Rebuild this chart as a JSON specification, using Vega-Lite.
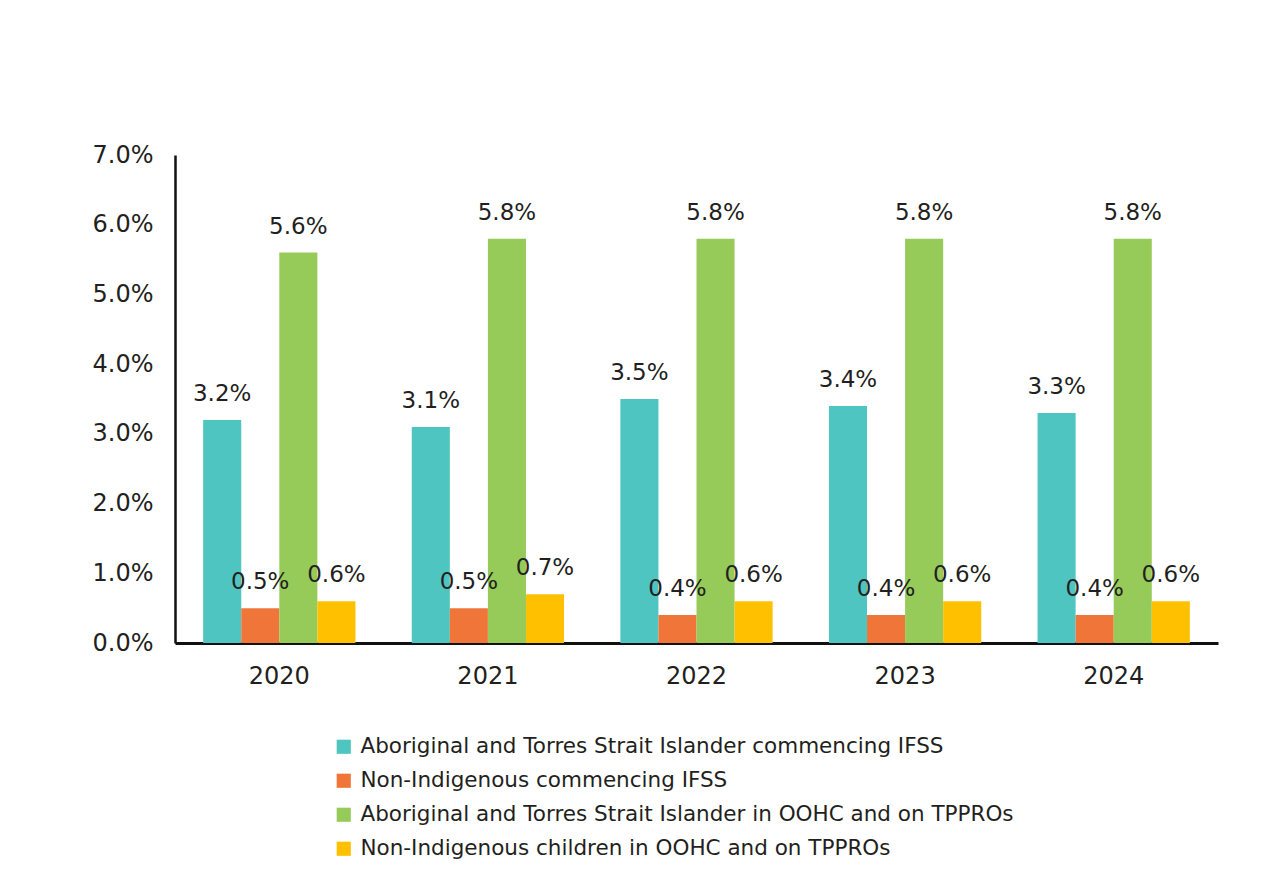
{
  "$schema": "https://vega.github.io/schema/vega-lite/v6.json",
  "width": 1043,
  "height": 488,
  "autosize": {"type": "none"},
  "padding": {"left": 175, "top": 155, "right": 63, "bottom": 247},
  "background": "white",
  "config": {
    "view": {"stroke": null},
    "font": "DejaVu Sans",
    "axis": {"labelFont": "DejaVu Sans", "labelFontWeight": "normal", "labelColor": "#231f20", "labelFontSize": 24}
  },
  "data": {
    "values": [
      {"year": "2020", "series": "Aboriginal and Torres Strait Islander commencing IFSS", "value": 0.032},
      {"year": "2020", "series": "Non-Indigenous commencing IFSS", "value": 0.005},
      {"year": "2020", "series": "Aboriginal and Torres Strait Islander in OOHC and on TPPROs", "value": 0.056},
      {"year": "2020", "series": "Non-Indigenous children in OOHC and on TPPROs", "value": 0.006},
      {"year": "2021", "series": "Aboriginal and Torres Strait Islander commencing IFSS", "value": 0.031},
      {"year": "2021", "series": "Non-Indigenous commencing IFSS", "value": 0.005},
      {"year": "2021", "series": "Aboriginal and Torres Strait Islander in OOHC and on TPPROs", "value": 0.058},
      {"year": "2021", "series": "Non-Indigenous children in OOHC and on TPPROs", "value": 0.007},
      {"year": "2022", "series": "Aboriginal and Torres Strait Islander commencing IFSS", "value": 0.035},
      {"year": "2022", "series": "Non-Indigenous commencing IFSS", "value": 0.004},
      {"year": "2022", "series": "Aboriginal and Torres Strait Islander in OOHC and on TPPROs", "value": 0.058},
      {"year": "2022", "series": "Non-Indigenous children in OOHC and on TPPROs", "value": 0.006},
      {"year": "2023", "series": "Aboriginal and Torres Strait Islander commencing IFSS", "value": 0.034},
      {"year": "2023", "series": "Non-Indigenous commencing IFSS", "value": 0.004},
      {"year": "2023", "series": "Aboriginal and Torres Strait Islander in OOHC and on TPPROs", "value": 0.058},
      {"year": "2023", "series": "Non-Indigenous children in OOHC and on TPPROs", "value": 0.006},
      {"year": "2024", "series": "Aboriginal and Torres Strait Islander commencing IFSS", "value": 0.033},
      {"year": "2024", "series": "Non-Indigenous commencing IFSS", "value": 0.004},
      {"year": "2024", "series": "Aboriginal and Torres Strait Islander in OOHC and on TPPROs", "value": 0.058},
      {"year": "2024", "series": "Non-Indigenous children in OOHC and on TPPROs", "value": 0.006}
    ]
  },
  "encoding": {
    "x": {
      "field": "year", "type": "nominal", "title": null,
      "scale": {"paddingInner": 0.27, "paddingOuter": 0.135},
      "axis": {"labelAngle": 0, "domainColor": "#111111", "domainWidth": 3, "ticks": false, "labelPadding": 21}
    },
    "xOffset": {
      "field": "series", "type": "nominal",
      "sort": ["Aboriginal and Torres Strait Islander commencing IFSS", "Non-Indigenous commencing IFSS", "Aboriginal and Torres Strait Islander in OOHC and on TPPROs", "Non-Indigenous children in OOHC and on TPPROs"],
      "scale": {"paddingInner": 0, "paddingOuter": 0}
    },
    "y": {
      "field": "value", "type": "quantitative", "title": null,
      "scale": {"domain": [0, 0.07], "nice": false},
      "axis": {"format": ".1%", "values": [0, 0.01, 0.02, 0.03, 0.04, 0.05, 0.06, 0.07], "grid": false, "ticks": false, "domainColor": "#111111", "domainWidth": 2.5, "labelPadding": 22}
    }
  },
  "layer": [
    {
      "mark": {"type": "bar"},
      "encoding": {
        "color": {
          "field": "series", "type": "nominal",
          "sort": ["Aboriginal and Torres Strait Islander commencing IFSS", "Non-Indigenous commencing IFSS", "Aboriginal and Torres Strait Islander in OOHC and on TPPROs", "Non-Indigenous children in OOHC and on TPPROs"],
          "scale": {
            "domain": ["Aboriginal and Torres Strait Islander commencing IFSS", "Non-Indigenous commencing IFSS", "Aboriginal and Torres Strait Islander in OOHC and on TPPROs", "Non-Indigenous children in OOHC and on TPPROs"],
            "range": ["#4EC5C1", "#F07538", "#97CB59", "#FFC000"]
          },
          "legend": {
            "title": null, "orient": "none", "legendX": 158, "legendY": 581, "direction": "vertical",
            "symbolType": "square", "symbolSize": 200, "symbolStrokeWidth": 0, "symbolOpacity": 1,
            "labelFont": "DejaVu Sans", "labelFontWeight": "normal", "labelFontSize": 21.5, "labelColor": "#231f20",
            "labelLimit": 800, "rowPadding": 11, "labelOffset": 6
          }
        }
      }
    },
    {
      "mark": {"type": "text", "baseline": "alphabetic", "dy": -19, "font": "DejaVu Sans", "fontSize": 23, "color": "#231f20"},
      "encoding": {
        "text": {"field": "value", "type": "quantitative", "format": ".1%"}
      }
    }
  ]
}
